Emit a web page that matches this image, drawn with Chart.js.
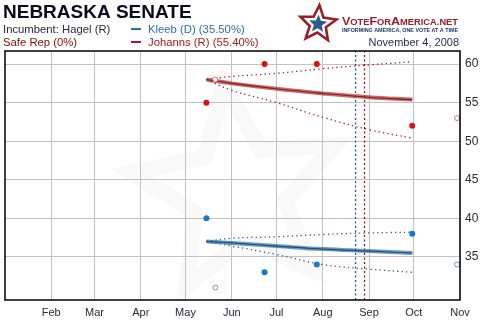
<!DOCTYPE html>
<html>
<head>
<meta charset="utf-8">
<script src="https://cdn.jsdelivr.net/npm/chart.js@4.4.1/dist/chart.umd.min.js"></script>
<style>
  html, body { margin: 0; padding: 0; background: #fff; }
  #wrap { width: 490px; height: 330px; }
</style>
</head>
<body>
<div id="wrap"><canvas id="c" width="490" height="330"></canvas></div>
<script>
// Days counted from Jan 1, 2008
const monthStarts = [31, 60, 91, 121, 152, 182, 213, 244, 274, 305];
const monthLabels = ['Feb', 'Mar', 'Apr', 'May', 'Jun', 'Jul', 'Aug', 'Sep', 'Oct', 'Nov'];
const yTicks = [35, 40, 45, 50, 55, 60];
const xMin = 0, xMax = 305;
const yMin = 29.4, yMax = 61.7;

// Individual polls
const pollDays = [135, 174, 209, 273];
const kleebPolls = [40, 33, 34, 38];
const johannsPolls = [55, 60, 60, 52];
const otherPollDays = [141, 303];
const kleebOther = [31, 34];
const johannsOther = [58, 53];

// Poll average with its band
const trendDays = [135, 152, 182, 213, 244, 273];
const kleebTrend = [37.0, 36.8, 36.4, 36.0, 35.75, 35.5];
const kleebUpper = [37.0, 37.4, 37.6, 37.9, 38.1, 38.2];
const kleebLower = [37.0, 36.4, 35.3, 34.0, 33.4, 33.0];
const johannsTrend = [58.0, 57.5, 56.8, 56.2, 55.7, 55.4];
const johannsUpper = [58.0, 58.4, 58.8, 59.4, 59.9, 60.3];
const johannsLower = [58.0, 56.6, 55.0, 53.1, 51.5, 50.4];

// Party conventions
const conventionDays = [235, 241];

const FONT = '"Liberation Sans", Arial, sans-serif';
const zip = (xs, ys) => xs.map((x, i) => ({ x, y: ys[i] }));
const vline = d => [{ x: d, y: yMin }, { x: d, y: yMax }];

function starPath(ctx, cx, cy, R, r, rot) {
  ctx.beginPath();
  for (let i = 0; i < 10; i++) {
    const a = rot + i * Math.PI / 5;
    const rad = i % 2 === 0 ? R : r;
    const px = cx + rad * Math.cos(a), py = cy + rad * Math.sin(a);
    if (i === 0) ctx.moveTo(px, py); else ctx.lineTo(px, py);
  }
  ctx.closePath();
}

function fitText(ctx, text, x, y, width) {
  const w = ctx.measureText(text).width;
  ctx.save();
  ctx.translate(x, y);
  ctx.scale(width / w, 1);
  ctx.fillText(text, 0, 0);
  ctx.restore();
}

const watermark = {
  id: 'watermark',
  beforeDraw(chart) {
    const { ctx, chartArea: a } = chart;
    ctx.save();
    ctx.beginPath();
    ctx.rect(a.left, a.top, a.right - a.left, a.bottom - a.top);
    ctx.clip();
    starPath(ctx, 238, 192, 108, 48, -2.96);
    ctx.lineWidth = 16;
    ctx.lineJoin = 'miter';
    ctx.strokeStyle = 'rgba(0,0,0,0.022)';
    ctx.stroke();
    ctx.restore();
  }
};

const header = {
  id: 'header',
  afterDraw(chart) {
    const { ctx, chartArea: a } = chart;
    ctx.save();
    // frame
    ctx.lineWidth = 1.5;
    ctx.strokeStyle = '#000';
    ctx.strokeRect(a.left, a.top, a.right - a.left, a.bottom - a.top);

    ctx.textBaseline = 'alphabetic';
    ctx.textAlign = 'left';
    ctx.fillStyle = '#0b0b1e';
    ctx.font = 'bold 19px ' + FONT;
    ctx.fillText('NEBRASKA SENATE', 3, 18);

    ctx.font = '11.3px ' + FONT;
    ctx.fillStyle = '#2a2a3a';
    ctx.fillText('Incumbent: Hagel (R)', 3, 33);
    ctx.fillStyle = '#8b0a0a';
    ctx.fillText('Safe Rep (0%)', 3, 46);

    ctx.lineWidth = 2;
    ctx.strokeStyle = '#2f6fa8';
    ctx.beginPath(); ctx.moveTo(131, 29); ctx.lineTo(141, 29); ctx.stroke();
    ctx.fillStyle = '#2f6fa8';
    ctx.fillText('Kleeb (D) (35.50%)', 148, 33);
    ctx.strokeStyle = '#a01c1c';
    ctx.beginPath(); ctx.moveTo(131, 42); ctx.lineTo(141, 42); ctx.stroke();
    ctx.fillStyle = '#a01c1c';
    ctx.fillText('Johanns (R) (55.40%)', 148, 46);

    // logo
    starPath(ctx, 318, 24, 19, 8.5, -2.75);
    ctx.fillStyle = '#fff';
    ctx.fill();
    ctx.lineWidth = 2.6;
    ctx.strokeStyle = '#9a1e28';
    ctx.lineJoin = 'miter';
    ctx.stroke();
    starPath(ctx, 318, 24, 9.5, 4.2, -2.75);
    ctx.fillStyle = '#2c5b8e';
    ctx.fill();

    ctx.fillStyle = '#9a1e28';
    ctx.textBaseline = 'alphabetic';
    // small-caps wordmark
    const parts = [['V', 11], ['OTE', 8.2], ['F', 11], ['OR', 8.2], ['A', 11], ['MERICA.NET', 8.2]];
    let total = 0;
    parts.forEach(p => { ctx.font = 'bold ' + p[1] + 'px ' + FONT; total += ctx.measureText(p[0]).width; });
    const sx = 116 / total;
    ctx.save();
    ctx.translate(342, 25);
    ctx.scale(sx, 1);
    let off = 0;
    parts.forEach(p => {
      ctx.font = 'bold ' + p[1] + 'px ' + FONT;
      ctx.fillText(p[0], off, 0);
      off += ctx.measureText(p[0]).width;
    });
    ctx.restore();

    ctx.fillStyle = '#1d3570';
    ctx.font = 'bold 5px ' + FONT;
    fitText(ctx, 'INFORMING AMERICA, ONE VOTE AT A TIME', 342, 32, 116);

    ctx.font = '11px ' + FONT;
    ctx.textAlign = 'right';
    ctx.fillStyle = '#1d2a55';
    ctx.fillText('November 4, 2008', 459, 46);
    ctx.restore();
  }
};

const dotted = (data, color) => ({
  data, showLine: true, pointRadius: 0, borderColor: color, borderWidth: 1.3,
  borderDash: [1.3, 3.2], tension: 0.4, fill: false, order: 3
});

new Chart(document.getElementById('c'), {
  type: 'scatter',
  data: {
    datasets: [
      // polls
      { data: zip(pollDays, johannsPolls), pointRadius: 3, pointBackgroundColor: '#dd1010', pointBorderColor: '#dd1010', pointBorderWidth: 0, order: 0 },
      { data: zip(pollDays, kleebPolls), pointRadius: 3, pointBackgroundColor: '#1a78c8', pointBorderColor: '#1a78c8', pointBorderWidth: 0, order: 0 },
      { data: zip(otherPollDays, johannsOther), pointRadius: 2.5, pointBackgroundColor: '#fff', pointBorderColor: '#c87878', pointBorderWidth: 1, order: 0 },
      { data: zip(otherPollDays, kleebOther), pointRadius: 2.5, pointBackgroundColor: '#fff', pointBorderColor: '#6a96c0', pointBorderWidth: 1, order: 0 },
      // averages: soft band with a darker core
      { data: zip(trendDays, johannsTrend), showLine: true, pointRadius: 0, borderColor: '#8e1c1c', borderWidth: 1.2, tension: 0.4, order: 1 },
      { data: zip(trendDays, kleebTrend), showLine: true, pointRadius: 0, borderColor: '#1f4f7e', borderWidth: 1.2, tension: 0.4, order: 1 },
      { data: zip(trendDays, johannsTrend), showLine: true, pointRadius: 0, borderColor: 'rgba(175,60,60,0.75)', borderWidth: 4, tension: 0.4, order: 2 },
      { data: zip(trendDays, kleebTrend), showLine: true, pointRadius: 0, borderColor: 'rgba(60,120,170,0.75)', borderWidth: 4, tension: 0.4, order: 2 },
      dotted(zip(trendDays, johannsUpper), '#a81c1c'),
      dotted(zip(trendDays, johannsLower), '#a81c1c'),
      dotted(zip(trendDays, kleebUpper), '#24609a'),
      dotted(zip(trendDays, kleebLower), '#24609a'),
      // convention markers
      { data: vline(conventionDays[0]), showLine: true, pointRadius: 0, borderColor: '#1f4f7e', borderWidth: 1.2, borderDash: [2, 2.5], order: 4 },
      { data: vline(conventionDays[1]), showLine: true, pointRadius: 0, borderColor: '#a00000', borderWidth: 1.2, borderDash: [2, 2.5], order: 4 }
    ]
  },
  options: {
    responsive: false,
    animation: false,
    devicePixelRatio: 1,
    layout: { padding: { top: 51, left: 3, right: 0, bottom: 0 } },
    plugins: { legend: { display: false }, tooltip: { enabled: false } },
    scales: {
      x: {
        type: 'linear', min: xMin, max: xMax, position: 'bottom',
        grid: { color: '#c2c2c2', lineWidth: 1, drawTicks: false },
        border: { display: false },
        afterBuildTicks: s => { s.ticks = monthStarts.map(v => ({ value: v })); },
        afterFit: s => { s.height = 30; },
        ticks: {
          autoSkip: false, maxRotation: 0, padding: 6,
          color: '#2a2a3a', font: { family: FONT, size: 11 },
          callback: (v, i) => monthLabels[i]
        }
      },
      y: {
        type: 'linear', min: yMin, max: yMax, position: 'right',
        grid: { color: '#c2c2c2', lineWidth: 1, drawTicks: false },
        border: { display: false },
        afterBuildTicks: s => { s.ticks = yTicks.map(v => ({ value: v })); },
        afterFit: s => { s.width = 30; },
        ticks: { padding: 5, color: '#2a2a3a', font: { family: FONT, size: 12 } }
      }
    }
  },
  plugins: [watermark, header]
});
</script>
</body>
</html>
